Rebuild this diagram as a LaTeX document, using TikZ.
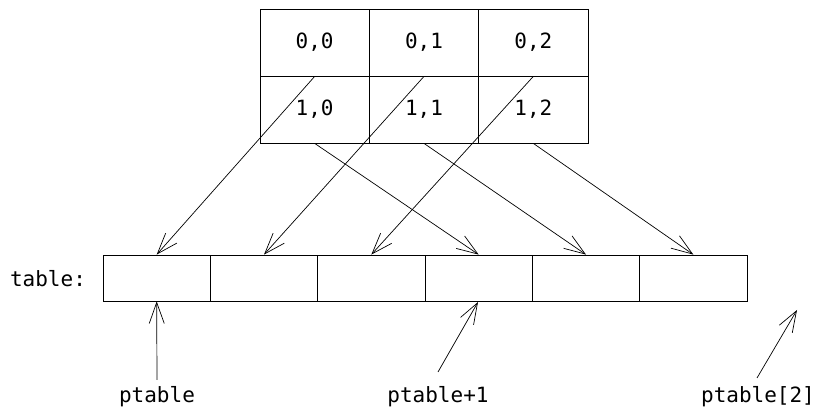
\documentclass[tikz,border=0pt]{standalone}
\usepackage{fontspec}
\setmonofont{DejaVu Sans Mono}
\usetikzlibrary{arrows.meta}
\begin{document}
\begin{tikzpicture}[x=1pt,y=-1pt,
  every node/.style={font=\ttfamily\fontsize{21}{25}\selectfont},
  gcell/.style={draw,line width=0.8pt,minimum width=109.33pt,minimum height=67pt,inner sep=0pt},
  acell/.style={draw,line width=0.8pt,minimum width=107.33pt,minimum height=46pt,inner sep=0pt},
  lbl/.style={inner sep=0pt},
  ptr/.style={line width=0.7pt,-{Straight Barb[length=21pt,width=15pt,line width=0.7pt]}}]
\useasboundingbox (0,0) rectangle (820,411);
% top grid
\node[gcell] (g00) at (314.67,42.5) {0,0};
\node[gcell] (g01) at (424,42.5) {0,1};
\node[gcell] (g02) at (533.33,42.5) {0,2};
\node[gcell] (g10) at (314.67,109.5) {1,0};
\node[gcell] (g11) at (424,109.5) {1,1};
\node[gcell] (g12) at (533.33,109.5) {1,2};
% bottom array
\node[acell] (a0) at (156.67,278) {};
\node[acell] (a1) at (264,278) {};
\node[acell] (a2) at (371.33,278) {};
\node[acell] (a3) at (478.67,278) {};
\node[acell] (a4) at (586,278) {};
\node[acell] (a5) at (693.33,278) {};
\node[lbl] (tbl) at (48,279) {table:};
% arrows grid -> array
\draw[ptr] (g00.south) -- (a0.north);
\draw[ptr] (g01.south) -- (a1.north);
\draw[ptr] (g02.south) -- (a2.north);
\draw[ptr] (g10.south) -- (a3.north);
\draw[ptr] (g11.south) -- (a4.north);
\draw[ptr] (g12.south) -- (a5.north);
% pointer labels
\node[lbl,anchor=base] (p0) at (157,403) {ptable};
\node[lbl,anchor=base] (p1) at (438,403) {ptable+1};
\node[lbl,anchor=base] (p2) at (758,403) {ptable[2]};
\coordinate (t0) at (157,380);
\coordinate (t1) at (438,372);
\coordinate (t2) at (757,378);
\coordinate (e2) at (797,310);
\coordinate (e1) at (478,302);
\draw[ptr] (t0) -- (a0.south);
\draw[ptr] (t1) -- (e1);
\draw[ptr] (t2) -- (e2);
\end{tikzpicture}
\end{document}
